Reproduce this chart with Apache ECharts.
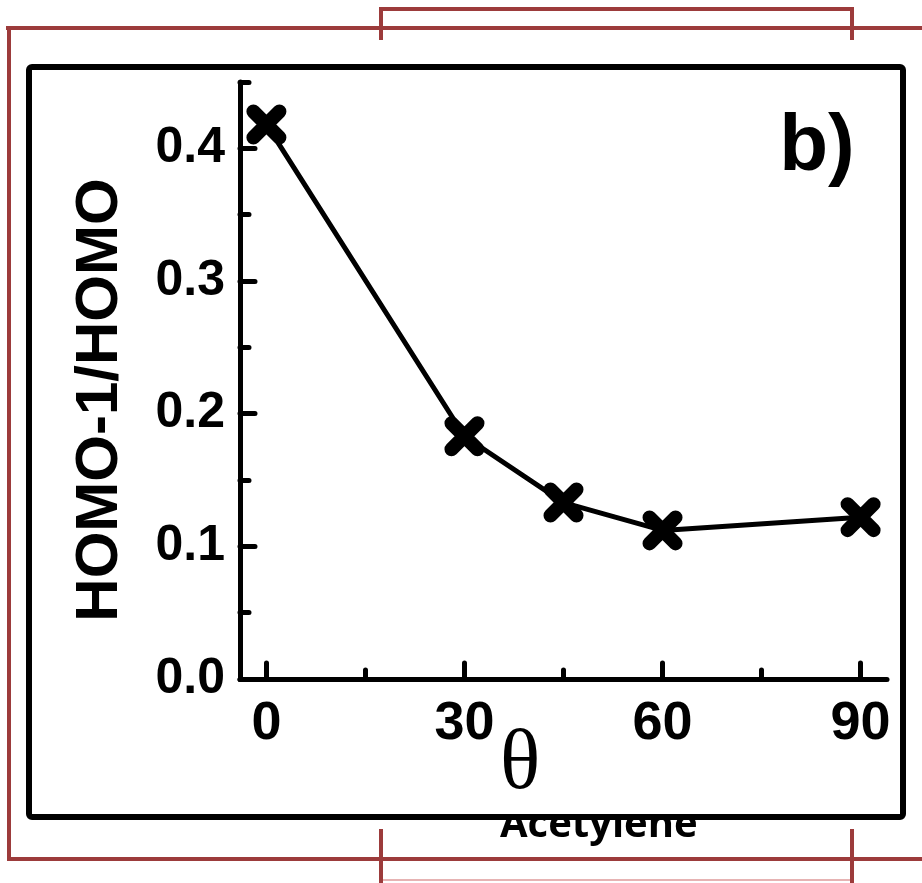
<!DOCTYPE html>
<html>
<head>
<meta charset="utf-8">
<script src="https://cdn.jsdelivr.net/npm/echarts@6/dist/echarts.min.js"></script>
<style>
    html, body { margin: 0; padding: 0; background: #fff; }
    #chart { width: 922px; height: 883px; }
</style>
</head>
<body>
<div id="chart"></div>
<script>
// data
var theta = [0, 30, 45, 60, 90];
var ratio = [0.418, 0.183, 0.133, 0.112, 0.122];
var xTicks = [0, 30, 60, 90];
var xMinorTicks = [15, 45, 75];
var yTicks = [0, 0.1, 0.2, 0.3, 0.4];
var yMinorTicks = [0.05, 0.15, 0.25, 0.35, 0.45];

var red = '#9c3b3b';
var fontBold = '"Liberation Sans", Arial, sans-serif';

var points = [];
for (var i = 0; i < theta.length; i++) {
    points.push([theta[i], ratio[i]]);
}

var myChart = echarts.init(document.getElementById('chart'));
var option = {
    backgroundColor: '#fff',
    animation: false,
    grid: {
        left: 240,
        right: 35,
        top: 82,
        bottom: 204
    },
    xAxis: [{
        type: 'value',
        min: -4,
        max: 94,
        z: 10,
        axisLine: { show: true, onZero: false, lineStyle: { color: '#000', width: 5 } },
        axisTick: {
            show: true, inside: true, length: 16, customValues: xTicks,
            lineStyle: { color: '#000', width: 5, cap: 'round' }
        },
        axisLabel: {
            customValues: xTicks, margin: 18,
            color: '#000', fontSize: 54, fontWeight: 'bold', fontFamily: fontBold
        },
        splitLine: { show: false }
    }, {
        type: 'value',
        min: -4,
        max: 94,
        position: 'bottom',
        z: 10,
        axisLine: { show: false, onZero: false },
        axisTick: {
            show: true, inside: true, length: 9, customValues: xMinorTicks,
            lineStyle: { color: '#000', width: 5, cap: 'round' }
        },
        axisLabel: { show: false },
        splitLine: { show: false }
    }],
    yAxis: [{
        type: 'value',
        min: 0,
        max: 0.45,
        z: 10,
        axisLine: { show: true, onZero: false, lineStyle: { color: '#000', width: 5 } },
        axisTick: {
            show: true, inside: true, length: 15, customValues: yTicks,
            lineStyle: { color: '#000', width: 5, cap: 'round' }
        },
        axisLabel: {
            customValues: yTicks, margin: 15,
            formatter: function (v) { return v.toFixed(1); },
            color: '#000', fontSize: 50, fontWeight: 'bold', fontFamily: fontBold
        },
        splitLine: { show: false }
    }, {
        type: 'value',
        min: 0,
        max: 0.45,
        position: 'left',
        z: 10,
        axisLine: { show: false, onZero: false },
        axisTick: {
            show: true, inside: true, length: 9, customValues: yMinorTicks,
            lineStyle: { color: '#000', width: 5, cap: 'round' }
        },
        axisLabel: { show: false },
        splitLine: { show: false }
    }],
    series: [{
        type: 'line',
        z: 11,
        data: points,
        symbol: 'path://M0,0L10,10M10,0L0,10',
        symbolSize: 26,
        lineStyle: { color: '#000', width: 5 },
        itemStyle: { color: 'rgba(0,0,0,0)', borderColor: '#000', borderWidth: 14, borderCap: 'round' }
    }],
    graphic: {
        elements: [
            // slide frame lines
            { type: 'polyline', z: 0, shape: { points: [[381, 40], [381, 9], [852, 9], [852, 40]] }, style: { stroke: red, lineWidth: 4, fill: null } },
            { type: 'line', z: 0, shape: { x1: 6, y1: 28, x2: 922, y2: 28 }, style: { stroke: red, lineWidth: 4 } },
            { type: 'polyline', z: 0, shape: { points: [[9, 28], [9, 859], [922, 859]] }, style: { stroke: red, lineWidth: 4, fill: null } },
            { type: 'line', z: 0, shape: { x1: 381, y1: 829, x2: 381, y2: 883 }, style: { stroke: red, lineWidth: 4 } },
            { type: 'line', z: 0, shape: { x1: 852, y1: 829, x2: 852, y2: 883 }, style: { stroke: red, lineWidth: 4 } },
            { type: 'line', z: 0, shape: { x1: 383, y1: 880, x2: 850, y2: 880 }, style: { stroke: '#e6b3b3', lineWidth: 2 } },
            // partly hidden caption under the box
            { type: 'text', z: 1, left: 500, top: 806, style: { text: 'Acetylene', font: 'bold 40px "Open Sans", sans-serif', fill: '#000' } },
            // figure box
            { type: 'rect', z: 2, shape: { x: 29, y: 67, width: 874, height: 750, r: 3 }, style: { fill: '#fff', stroke: '#000', lineWidth: 6 } },
            { type: 'text', z: 3, x: 817, y: 148, style: { text: 'b)', font: 'bold 80px ' + fontBold, fill: '#000', align: 'center', verticalAlign: 'middle' } },
            { type: 'text', z: 3, x: 520, y: 766, style: { text: 'θ', font: '84px "Liberation Serif", "DejaVu Serif", serif', fill: '#000', align: 'center', verticalAlign: 'middle' } },
            { type: 'text', z: 3, x: 100, y: 400, rotation: Math.PI / 2, style: { text: 'HOMO-1/HOMO', font: 'bold 60px ' + fontBold, fill: '#000', align: 'center', verticalAlign: 'middle' } }
        ]
    }
};
myChart.setOption(option);
</script>
</body>
</html>
